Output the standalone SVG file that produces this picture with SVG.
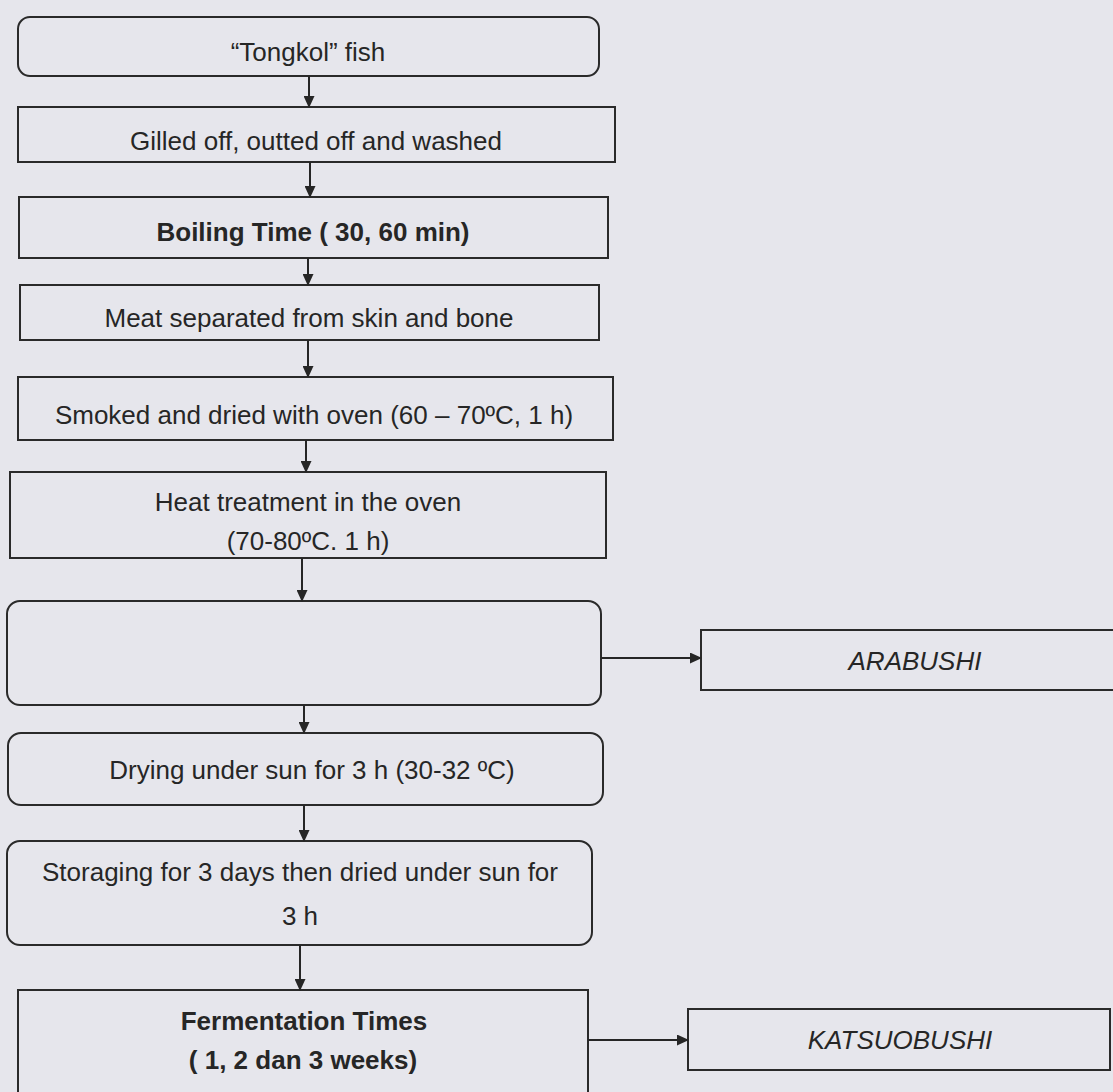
<svg xmlns="http://www.w3.org/2000/svg" width="1113" height="1092" viewBox="0 0 1113 1092">
<defs>
<marker id="ah" markerWidth="12" markerHeight="11" refX="11" refY="5.5" orient="auto" markerUnits="userSpaceOnUse">
<path d="M0,0 L12,5.5 L0,11 Z" fill="#262626"/>
</marker>
<style>
.box{fill:none;stroke:#2a2a2a;stroke-width:2}
.t{font-family:"Liberation Sans",Arial,sans-serif;font-size:26px;fill:#262626;text-anchor:middle}
.b{font-weight:bold}
.i{font-style:italic}
.c{stroke:#262626;stroke-width:2;fill:none;marker-end:url(#ah)}
</style>
</defs>
<rect x="0" y="0" width="1113" height="1092" fill="#e6e6ec"/>
<g id="n1"><rect class="box" x="18" y="17" width="581" height="59" rx="12"/><text class="t" x="308" y="61">“Tongkol” fish</text></g>
<g id="n2"><rect class="box" x="18" y="107" width="597" height="55"/><text class="t" x="316" y="150">Gilled off, outted off and washed</text></g>
<g id="n3"><rect class="box" x="19" y="197" width="589" height="61"/><text class="t b" x="313" y="241">Boiling Time ( 30, 60 min)</text></g>
<g id="n4"><rect class="box" x="20" y="285" width="579" height="55"/><text class="t" x="309" y="327">Meat separated from skin and bone</text></g>
<g id="n5"><rect class="box" x="18" y="377" width="595" height="63"/><text class="t" x="314" y="424">Smoked and dried with oven (60 – 70ºC, 1 h)</text></g>
<g id="n6"><rect class="box" x="10" y="472" width="596" height="86"/><text class="t" x="308" y="511">Heat treatment in the oven</text><text class="t" x="308" y="550">(70-80ºC. 1 h)</text></g>
<g id="n7"><rect class="box" x="7" y="601" width="594" height="104" rx="13"/></g>
<g id="n8"><rect class="box" x="8" y="733" width="595" height="72" rx="13"/><text class="t" x="312" y="779">Drying under sun for 3 h (30-32 ºC)</text></g>
<g id="n9"><rect class="box" x="7" y="841" width="585" height="104" rx="13"/><text class="t" x="300" y="881">Storaging for 3 days then dried under sun for</text><text class="t" x="300" y="925">3 h</text></g>
<g id="n10"><rect class="box" x="18" y="990" width="570" height="120"/><text class="t b" x="304" y="1030">Fermentation Times</text><text class="t b" x="303" y="1069">( 1, 2 dan 3 weeks)</text></g>
<g id="n11"><rect class="box" x="701" y="630" width="430" height="60"/><text class="t i" x="915" y="670">ARABUSHI</text></g>
<g id="n12"><rect class="box" x="688" y="1009" width="422" height="61"/><text class="t i" x="900" y="1049">KATSUOBUSHI</text></g>
<g id="connectors">
<line class="c" x1="309" y1="76" x2="309" y2="107"/>
<line class="c" x1="310" y1="162" x2="310" y2="197"/>
<line class="c" x1="308" y1="258" x2="308" y2="285"/>
<line class="c" x1="308" y1="340" x2="308" y2="377"/>
<line class="c" x1="306" y1="440" x2="306" y2="472"/>
<line class="c" x1="302" y1="558" x2="302" y2="601"/>
<line class="c" x1="304" y1="705" x2="304" y2="733"/>
<line class="c" x1="304" y1="805" x2="304" y2="841"/>
<line class="c" x1="300" y1="945" x2="300" y2="990"/>
<line class="c" x1="601" y1="658" x2="701" y2="658"/>
<line class="c" x1="588" y1="1040" x2="688" y2="1040"/>
</g>
</svg>
